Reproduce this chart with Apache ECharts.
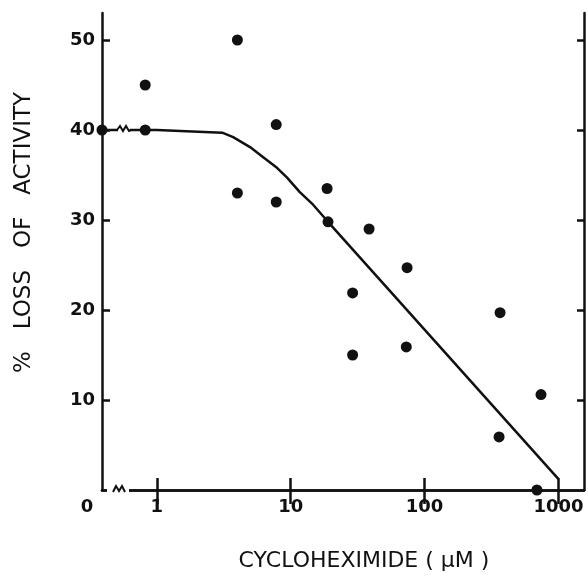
<!DOCTYPE html>
<html>
<head>
<meta charset="utf-8">
<script src="https://cdn.jsdelivr.net/npm/echarts@6/dist/echarts.min.js"></script>
<style>
  html, body { margin: 0; padding: 0; background: #ffffff; }
  #chart { width: 588px; height: 582px; }
</style>
</head>
<body>
<div id="chart"></div>
<script>
// measured points (cycloheximide uM, % loss)
var doseX = [0, 0.82, 0.82, 4.0, 4.0, 7.8, 7.8, 18.7, 19, 38.5, 29, 29, 74, 73, 366, 360, 740, 690];
var lossY = [40, 45, 40, 50, 33, 40.6, 32, 33.5, 29.8, 29, 21.9, 15, 24.7, 15.9, 19.7, 5.9, 10.6, 0];
// drawn curve
var fitX = [0, 1, 3.08, 3.72, 4.97, 6.2, 7.9, 9.4, 11.7, 14.7, 19, 1000];
var fitY = [40, 40, 39.7, 39.2, 38.1, 37, 35.8, 34.7, 33.1, 31.7, 29.8, 1.2];
var xTicks = [1, 10, 100, 1000];
var xTickLabels = ["0", "1", "10", "100", "1000"];
var yTickLabels = [10, 20, 30, 40, 50];

// "0" sits at the broken left end of the log axis
var ZERO_AT = 0.39;
var X_MAX = 1550;
var place = function (v) { return v === 0 ? ZERO_AT : v; };

var chart = echarts.init(document.getElementById("chart"));
var lbl = { fontFamily: "DejaVu Sans", fontWeight: "bold", fontSize: 18, color: "#111" };

var option = {
  backgroundColor: "#ffffff",
  animation: false,
  grid: { left: 102, right: 4, top: 13, bottom: 92 },
  xAxis: [
    {
      type: "log", logBase: 10, min: ZERO_AT, max: X_MAX,
      name: "CYCLOHEXIMIDE ( µM )", nameLocation: "middle", nameGap: 60,
      nameTextStyle: { fontFamily: "DejaVu Sans", fontSize: 22, color: "#111", padding: [0, 0, 0, 42] },
      axisLine: { lineStyle: { color: "#111", width: 2.5 } },
      axisTick: { inside: true, length: 12, customValues: xTicks, lineStyle: { color: "#111", width: 2.5 } },
      splitLine: { show: false },
      axisLabel: {
        margin: 8,
        customValues: [ZERO_AT].concat(xTicks),
        formatter: function (v) {
          if (Math.abs(v - ZERO_AT) < 1e-6) return "{z|" + xTickLabels[0] + "}";
          var i = xTicks.indexOf(Math.round(v));
          return i >= 0 ? xTickLabels[i + 1] : "";
        },
        rich: { z: { fontFamily: lbl.fontFamily, fontWeight: "bold", fontSize: 18, color: "#111", padding: [0, 30, 0, 0] } },
        fontFamily: lbl.fontFamily, fontWeight: lbl.fontWeight, fontSize: lbl.fontSize, color: lbl.color
      }
    },
    {
      type: "log", logBase: 10, min: ZERO_AT, max: X_MAX, position: "top",
      axisLine: { lineStyle: { color: "#111", width: 2.5 } },
      axisTick: { inside: true, length: 14, customValues: xTicks, lineStyle: { color: "#111", width: 2.5 } },
      axisLabel: { show: false }, splitLine: { show: false }
    }
  ],
  yAxis: [
    {
      type: "value", min: 0, max: 53, interval: 10,
      name: "%   LOSS   OF   ACTIVITY", nameLocation: "middle", nameGap: 66, nameRotate: 90,
      nameTextStyle: { fontFamily: "DejaVu Sans", fontSize: 23, color: "#111", padding: [0, 0, 0, 38] },
      axisLine: { lineStyle: { color: "#111", width: 2.5 } },
      axisTick: { inside: true, length: 8, customValues: yTickLabels, lineStyle: { color: "#111", width: 2.5 } },
      splitLine: { show: false },
      axisLabel: {
        margin: 7, customValues: yTickLabels,
        fontFamily: lbl.fontFamily, fontWeight: lbl.fontWeight, fontSize: lbl.fontSize, color: lbl.color
      }
    },
    {
      type: "value", min: 0, max: 53, interval: 10, position: "right",
      axisLine: { show: true, lineStyle: { color: "#111", width: 2.5 } },
      axisTick: { show: true, inside: true, length: 7, customValues: yTickLabels, lineStyle: { color: "#111", width: 2.5 } },
      axisLabel: { show: false }, splitLine: { show: false }
    }
  ],
  series: [
    {
      name: "fit", type: "line", smooth: false, symbol: "none",
      lineStyle: { color: "#111", width: 2.5 },
      data: fitX.map(function (x, i) { return [place(x), fitY[i]]; }),
      z: 3
    },
    {
      name: "data", type: "scatter", symbolSize: 11,
      itemStyle: { color: "#111", opacity: 1 },
      data: doseX.map(function (x, i) { return [place(x), lossY[i]]; }),
      z: 4
    }
  ]
};
chart.setOption(option);

// axis-break marks on the x axis and on the curve near 0
var p0 = chart.convertToPixel({ xAxisIndex: 0, yAxisIndex: 0 }, [ZERO_AT, 0]);
var p40 = chart.convertToPixel({ xAxisIndex: 0, yAxisIndex: 0 }, [ZERO_AT, 40]);
var ax = p0[0], ay = p0[1], ly = p40[1];
chart.setOption({
  graphic: [
    { type: "rect", z: 100, shape: { x: ax + 5, y: ay - 3, width: 22, height: 6 }, style: { fill: "#fff" } },
    { type: "polyline", z: 101, shape: { points: [[ax + 11, ay + 2], [ax + 14, ay - 4], [ax + 17, ay + 1], [ax + 20, ay - 4], [ax + 23, ay + 2]] },
      style: { stroke: "#111", lineWidth: 2, fill: null } },
    { type: "rect", z: 100, shape: { x: ax + 16, y: ly - 3, width: 12, height: 6 }, style: { fill: "#fff" } },
    { type: "polyline", z: 101, shape: { points: [[ax + 15, ly], [ax + 18, ly - 4], [ax + 21, ly + 1], [ax + 24, ly - 4], [ax + 27, ly + 1], [ax + 29, ly]] },
      style: { stroke: "#111", lineWidth: 2, fill: null } }
  ]
});
</script>
</body>
</html>
